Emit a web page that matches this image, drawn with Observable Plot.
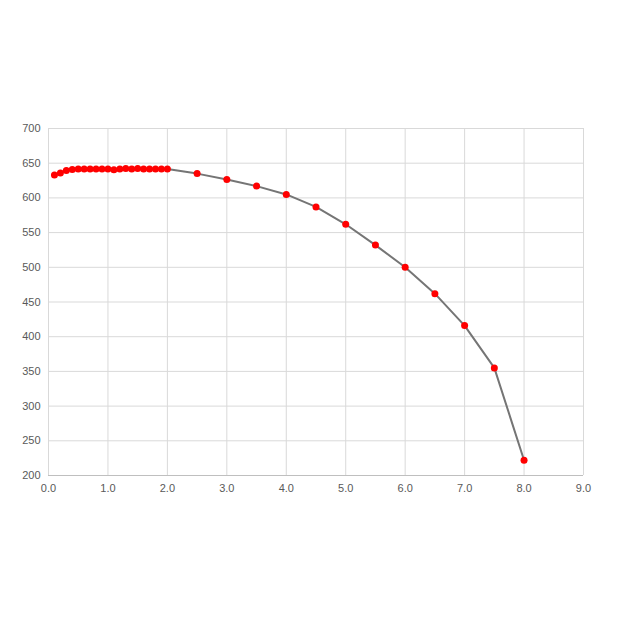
<!DOCTYPE html>
<html>
<head>
<meta charset="utf-8">
<script src="https://cdn.jsdelivr.net/npm/d3@7"></script>
<script src="https://cdn.jsdelivr.net/npm/@observablehq/plot@0.6"></script>
<style>
  html, body { margin: 0; padding: 0; background: #fff; }
  #chart svg { display: block; }
</style>
</head>
<body>
<div id="chart"></div>
<script>
const xValues = [0.1,0.2,0.3,0.4,0.5,0.6,0.7,0.8,0.9,1.0,1.1,1.2,1.3,1.4,1.5,1.6,1.7,1.8,1.9,2.0,
                 2.5,3.0,3.5,4.0,4.5,5.0,5.5,6.0,6.5,7.0,7.5,8.0];
const yValues = [633,636,639.5,641,641.5,641.5,641.5,641.5,641.5,641.5,640.5,641.5,642.5,641.5,642.5,641.5,641.5,641.5,641.5,641.5,
                 635,626.5,617,605,587,562,532,500,462,416,355,222];
const xTicks = [0,1,2,3,4,5,6,7,8,9];
const yTicks = [200,250,300,350,400,450,500,550,600,650,700];

const data = xValues.map((x, i) => ({x, y: yValues[i]}));

const chart = Plot.plot({
  width: 618,
  height: 618,
  marginLeft: 48,
  marginRight: 35,
  marginTop: 128,
  marginBottom: 143,
  style: {fontFamily: "Liberation Sans, Arial, sans-serif", fontSize: "11px", color: "#595959", background: "#fff"},
  x: {domain: [0, 9]},
  y: {domain: [200, 700]},
  marks: [
    Plot.gridX(xTicks, {stroke: "#d9d9d9", strokeOpacity: 1}),
    Plot.gridY(yTicks, {stroke: "#d9d9d9", strokeOpacity: 1}),
    Plot.ruleY([200], {stroke: "#bfbfbf"}),
    Plot.axisX({ticks: xTicks, tickFormat: d => d.toFixed(1), tickSize: 0, tickPadding: 9, label: null, fill: "#595959"}),
    Plot.axisY({ticks: yTicks, tickSize: 0, tickPadding: 8, label: null, fill: "#595959"}),
    Plot.line(data, {x: "x", y: "y", stroke: "#757575", strokeWidth: 2, curve: "linear"}),
    Plot.dot(data, {x: "x", y: "y", r: 3.5, fill: "#ff0000", stroke: "none"})
  ]
});
document.getElementById("chart").appendChild(chart);
</script>
</body>
</html>
